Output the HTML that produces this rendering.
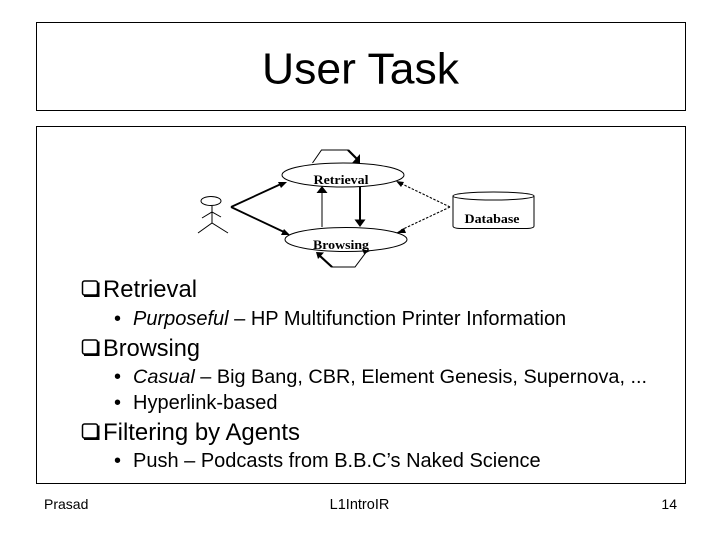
<!DOCTYPE html>
<html><head><meta charset="utf-8"><style>
html,body{margin:0;padding:0;background:#fff}
svg{display:block}
text{font-family:"Liberation Sans",Arial,sans-serif;fill:#000}
.s{font-family:"Liberation Serif",serif;font-weight:bold;font-size:13px}
</style></head><body>
<svg width="720" height="540" viewBox="0 0 720 540" xmlns="http://www.w3.org/2000/svg">
<rect width="720" height="540" fill="#fff"/>
<rect x="36.5" y="22.5" width="649" height="88" fill="none" stroke="#000"/>
<rect x="36.5" y="126.5" width="649" height="357" fill="none" stroke="#000"/>
<text x="360.5" y="83.5" text-anchor="middle" font-size="44" textLength="197" lengthAdjust="spacingAndGlyphs">User Task</text>

<g fill="none" stroke="#000">
<ellipse cx="343" cy="175" rx="61" ry="12"/>
<ellipse cx="346" cy="239.5" rx="61" ry="12"/>
<ellipse cx="211" cy="201" rx="10" ry="4.5"/>
<path d="M212 206V223M202 218L212 212L221 217M198 233L212 223L228 233"/>
<path d="M453 196V226Q453 228.500 462 228.500H525Q534 228.500 534 226V196" stroke-width="1"/>
<ellipse cx="493.500" cy="196" rx="40.500" ry="4"/>
<path d="M312.500 163L321.500 150H348" stroke-width="1"/>
<path d="M348 150L357 159" stroke-width="2.200"/>
<path d="M322 227V192" stroke-width="1"/>
<path d="M360 187V221" stroke-width="2"/>
<path d="M231 207L281 184M231 207L284 232" stroke-width="1.800"/>
<path d="M367 251L355 267H332" stroke-width="1"/>
<path d="M332 267L320 256" stroke-width="2.200"/>
<path d="M450 207L400 183M450 207L401 230" stroke-width="1.100" stroke-dasharray="2.500 1.500"/>
</g>
<g fill="#000">
<path d="M360 163H352L360 154Z"/>
<path d="M322 186L327.500 193H316.500Z"/>
<path d="M360 227L354.500 219.500H365.500Z"/>
<path d="M287 182L278 182L281 188Z"/>
<path d="M290 235L281 235L284 229Z"/>
<path d="M316 252L324 252.500L318 259Z"/>
<path d="M370 251L362 249L364 254Z"/>
<path d="M396 181L404 182L401 187Z"/>
<path d="M396 233L404 228L406 233Z"/>
</g>
<text class="s" x="341" y="184" text-anchor="middle" textLength="55" lengthAdjust="spacingAndGlyphs">Retrieval</text>
<text class="s" x="492" y="223" text-anchor="middle" textLength="55" lengthAdjust="spacingAndGlyphs">Database</text>
<text class="s" x="341" y="249" text-anchor="middle" textLength="56" lengthAdjust="spacingAndGlyphs">Browsing</text>

<g fill="none" stroke="#000" stroke-width="1.500">
<rect x="82.500" y="281" width="15" height="14" rx="2"/>
<rect x="82.500" y="340" width="15" height="14" rx="2"/>
<rect x="82.500" y="424" width="15" height="14" rx="2"/>
</g>
<g fill="#000">
<rect x="84" y="294.500" width="15" height="2.500"/><rect x="97" y="282.500" width="2.500" height="14.500"/>
<rect x="84" y="353.500" width="15" height="2.500"/><rect x="97" y="341.500" width="2.500" height="14.500"/>
<rect x="84" y="437.500" width="15" height="2.500"/><rect x="97" y="425.500" width="2.500" height="14.500"/>
</g>
<text x="103" y="297" font-size="24" textLength="94" lengthAdjust="spacingAndGlyphs">Retrieval</text>
<text x="103" y="356" font-size="24" textLength="97" lengthAdjust="spacingAndGlyphs">Browsing</text>
<text x="103" y="440" font-size="24" textLength="197" lengthAdjust="spacingAndGlyphs">Filtering by Agents</text>

<g font-size="20">
<text x="114" y="325">•</text>
<text x="133" y="325"><tspan font-style="italic">Purposeful</tspan> – HP Multifunction Printer Information</text>
<text x="114" y="383">•</text>
<text x="133" y="383" font-size="19.850"><tspan font-style="italic">Casual</tspan> – Big Bang, CBR, Element Genesis, Supernova, ...</text>
<text x="114" y="409">•</text>
<text x="133" y="409">Hyperlink-based</text>
<text x="114" y="467">•</text>
<text x="133" y="467">Push – Podcasts from B.B.C’s Naked Science</text>
</g>
<g font-size="14">
<text x="44" y="509">Prasad</text>
<text x="359.500" y="509" text-anchor="middle" font-size="14.500">L1IntroIR</text>
<text x="677" y="509" text-anchor="end">14</text>
</g>
</svg>
</body></html>
